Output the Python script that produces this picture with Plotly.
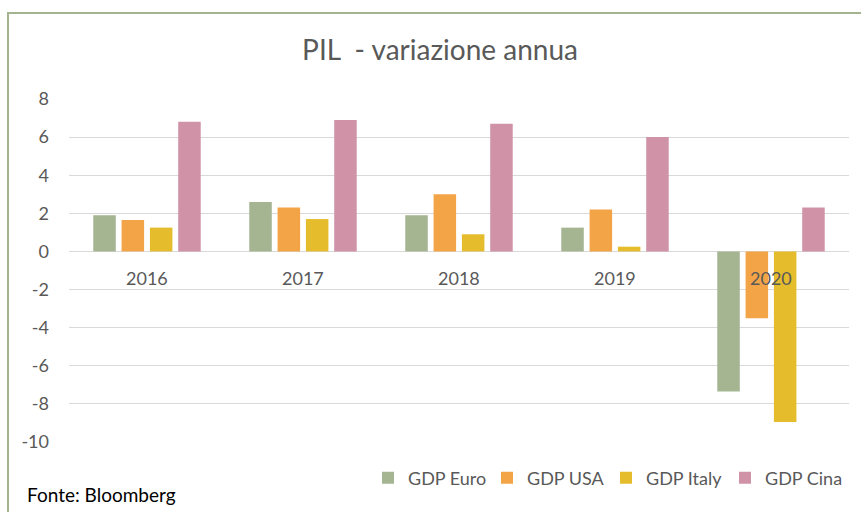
import plotly.graph_objects as go

years = ["2016", "2017", "2018", "2019", "2020"]
gdp_euro = [1.9, 2.6, 1.9, 1.25, -7.35]
gdp_usa = [1.65, 2.3, 3.0, 2.2, -3.5]
gdp_italy = [1.25, 1.7, 0.9, 0.25, -8.95]
gdp_cina = [6.8, 6.9, 6.7, 6.0, 2.3]

series_names = ["GDP Euro", "GDP USA", "GDP Italy", "GDP Cina"]
series_values = [gdp_euro, gdp_usa, gdp_italy, gdp_cina]
series_colors = ["#A5B592", "#F3A447", "#E5BC2B", "#D092A7"]
y_ticks = [8, 6, 4, 2, 0, -2, -4, -6, -8, -10]
y_tick_text = ["8", "6", "4", "2", "0", "-2", "-4", "-6", "-8", "-10"]

FONT = "Lato, 'Open Sans', sans-serif"
TXT = "#595959"

fig = go.Figure()
for name, vals, col in zip(series_names, series_values, series_colors):
    fig.add_trace(go.Bar(x=years, y=vals, name=name, marker_color=col,
                         marker_line_width=0))

# category labels placed just below the zero line (x = category index)
for i, yr in enumerate(years):
    fig.add_annotation(x=i, y=0, yshift=-27, text=yr, showarrow=False,
                       font=dict(family=FONT, size=18, color=TXT))

fig.update_layout(
    width=861, height=512,
    margin=dict(l=69, r=12, t=99, b=70, autoexpand=False),
    paper_bgcolor="white", plot_bgcolor="white",
    barmode="group", bargap=0.274, bargroupgap=0.205,
    title=dict(text="PIL\u00a0 - variazione annua", x=440 / 861, xanchor="center",
               y=1 - 50 / 512, yanchor="middle",
               font=dict(family=FONT, size=28, color=TXT)),
    xaxis=dict(type="category", range=[-0.5, 4.5], showticklabels=False,
               showgrid=False, zeroline=False, showline=False, ticks=""),
    yaxis=dict(range=[-10, 8], tickvals=y_ticks, ticktext=y_tick_text,
               showgrid=True, gridcolor="#D9D9D9", gridwidth=1, zeroline=True,
               zerolinecolor="#D9D9D9", zerolinewidth=1,
               tickfont=dict(family=FONT, size=18, color=TXT),
               ticks="", ticklabelstandoff=19, showline=False),
    legend=dict(orientation="h", x=(368 - 69) / 780, xanchor="left",
                y=(442 - 478) / 343, yanchor="middle",
                font=dict(family=FONT, size=18, color=TXT),
                itemwidth=30, entrywidth=74, traceorder="normal",
                bgcolor="rgba(0,0,0,0)"),
    showlegend=True,
)

# chart frame (top and left edges)
fig.add_shape(type="line", xref="paper", yref="paper",
              x0=(8 - 69) / 780, x1=(861 - 69) / 780,
              y0=(442 - 13) / 343, y1=(442 - 13) / 343,
              line=dict(color="#A3B48F", width=2))
fig.add_shape(type="line", xref="paper", yref="paper",
              x0=(8 - 69) / 780, x1=(8 - 69) / 780,
              y0=(442 - 12) / 343, y1=(442 - 520) / 343,
              line=dict(color="#A3B48F", width=2))

fig.add_annotation(xref="paper", yref="paper", x=(25 - 69) / 780, xanchor="left",
                   y=(442 - 495) / 343, yanchor="middle", text="Fonte: Bloomberg",
                   showarrow=False, font=dict(family=FONT, size=19, color="#000000"))

fig.write_html("out.html", config={"displayModeBar": False},
               post_script="document.body.style.margin='0';")
